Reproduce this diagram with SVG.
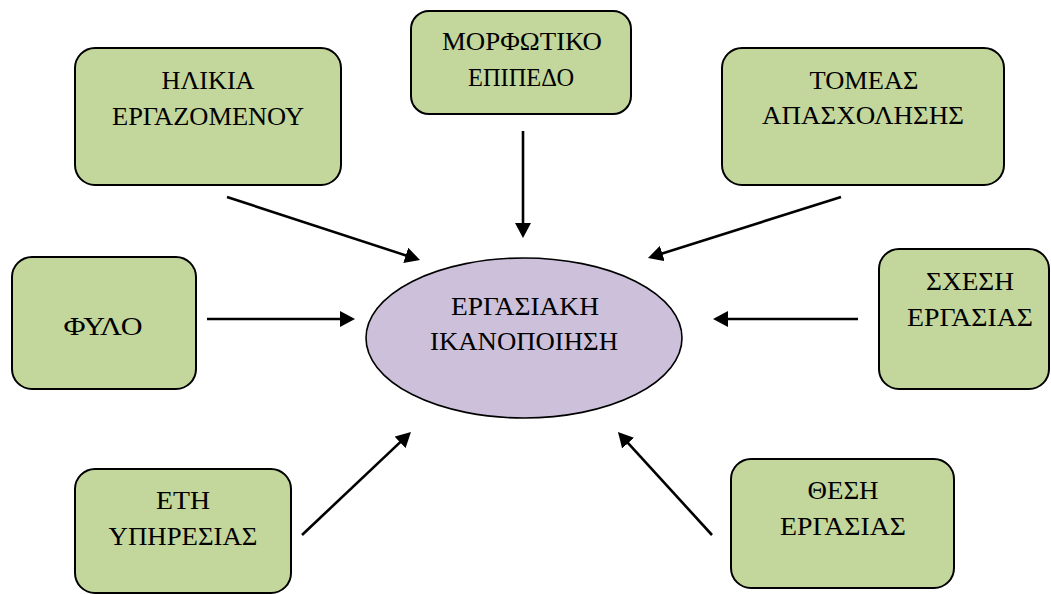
<svg xmlns="http://www.w3.org/2000/svg" width="1051" height="594" viewBox="0 0 1051 594">
  <style>
    .box { fill: #c3d69b; stroke: #000; stroke-width: 2; }
    .core { fill: #ccc0da; stroke: #000; stroke-width: 1.6; }
    .lbl { font-family: "Liberation Serif", "Times New Roman", "DejaVu Serif", serif; font-size: 25px; fill: #000; text-anchor: middle; }
    .conn { stroke: #000; stroke-width: 2.6; fill: none; marker-end: url(#arrow); }
  </style>
  <defs>
    <marker id="arrow" markerUnits="userSpaceOnUse" markerWidth="16" markerHeight="16" refX="5" refY="8" orient="auto">
      <path d="M0,0 L15,8 L0,16 Z" fill="#000"/>
    </marker>
  </defs>
  <rect width="1051" height="594" fill="#fff"/>

  <g id="connectors">
    <line class="conn" x1="227" y1="197" x2="410.5" y2="256.9"/>
    <line class="conn" x1="523" y1="131" x2="523" y2="228"/>
    <line class="conn" x1="841" y1="197" x2="657.5" y2="255"/>
    <line class="conn" x1="207" y1="319" x2="345" y2="319"/>
    <line class="conn" x1="858" y1="319" x2="723" y2="319"/>
    <line class="conn" x1="302" y1="535" x2="403.7" y2="438.9"/>
    <line class="conn" x1="712" y1="535" x2="624.7" y2="439.4"/>
  </g>

  <g id="node-ergasiaki">
    <ellipse class="core" cx="524" cy="338" rx="158" ry="80"/>
    <text class="lbl" x="525" y="315" textLength="148" lengthAdjust="spacingAndGlyphs">ΕΡΓΑΣΙΑΚΗ</text>
    <text class="lbl" x="524" y="350" textLength="188" lengthAdjust="spacingAndGlyphs">ΙΚΑΝΟΠΟΙΗΣΗ</text>
  </g>

  <g id="node-ilikia">
    <rect class="box" x="75" y="48" width="266" height="137" rx="20"/>
    <text class="lbl" x="208" y="89" textLength="93" lengthAdjust="spacingAndGlyphs">ΗΛΙΚΙΑ</text>
    <text class="lbl" x="208" y="125" textLength="192" lengthAdjust="spacingAndGlyphs">ΕΡΓΑΖΟΜΕΝΟΥ</text>
  </g>

  <g id="node-morfotiko">
    <rect class="box" x="411" y="11" width="220" height="103" rx="18"/>
    <text class="lbl" x="522" y="50" textLength="160" lengthAdjust="spacingAndGlyphs">ΜΟΡΦΩΤΙΚΟ</text>
    <text class="lbl" x="521" y="86" textLength="106" lengthAdjust="spacingAndGlyphs">ΕΠΙΠΕΔΟ</text>
  </g>

  <g id="node-tomeas">
    <rect class="box" x="722" y="48" width="282" height="137" rx="20"/>
    <text class="lbl" x="864" y="89" textLength="109" lengthAdjust="spacingAndGlyphs">ΤΟΜΕΑΣ</text>
    <text class="lbl" x="863" y="124" textLength="202" lengthAdjust="spacingAndGlyphs">ΑΠΑΣΧΟΛΗΣΗΣ</text>
  </g>

  <g id="node-fylo">
    <rect class="box" x="12" y="257" width="184" height="132" rx="20"/>
    <text class="lbl" x="103" y="335" textLength="79" lengthAdjust="spacingAndGlyphs">ΦΥΛΟ</text>
  </g>

  <g id="node-schesi">
    <rect class="box" x="879" y="249" width="170" height="140" rx="20"/>
    <text class="lbl" x="970" y="290" textLength="88" lengthAdjust="spacingAndGlyphs">ΣΧΕΣΗ</text>
    <text class="lbl" x="970" y="326" textLength="126" lengthAdjust="spacingAndGlyphs">ΕΡΓΑΣΙΑΣ</text>
  </g>

  <g id="node-eti">
    <rect class="box" x="75" y="469" width="216" height="124" rx="20"/>
    <text class="lbl" x="183" y="509" textLength="54" lengthAdjust="spacingAndGlyphs">ΕΤΗ</text>
    <text class="lbl" x="183" y="545" textLength="149" lengthAdjust="spacingAndGlyphs">ΥΠΗΡΕΣΙΑΣ</text>
  </g>

  <g id="node-thesi">
    <rect class="box" x="731" y="459" width="223" height="129" rx="20"/>
    <text class="lbl" x="843" y="499" textLength="71" lengthAdjust="spacingAndGlyphs">ΘΕΣΗ</text>
    <text class="lbl" x="843" y="535" textLength="126" lengthAdjust="spacingAndGlyphs">ΕΡΓΑΣΙΑΣ</text>
  </g>
</svg>
